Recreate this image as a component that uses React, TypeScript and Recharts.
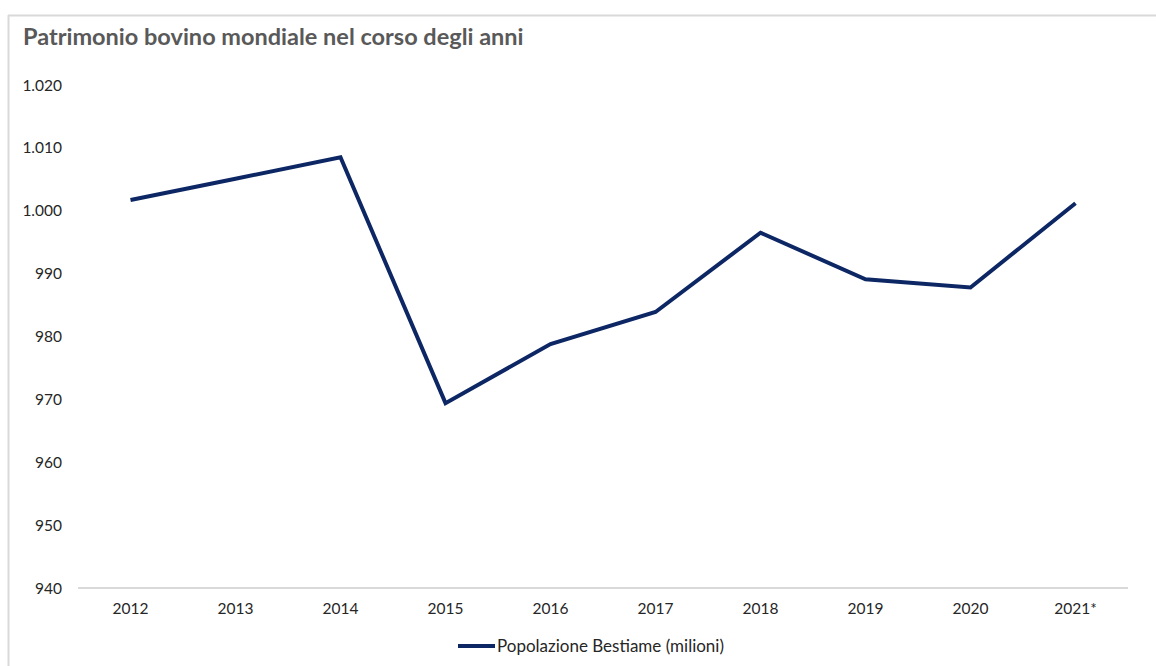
import React from 'react';
import { LineChart, Line, XAxis, YAxis } from 'recharts';

const years = ['2012', '2013', '2014', '2015', '2016', '2017', '2018', '2019', '2020', '2021*'];
const livestock = [1001.7, 1005.1, 1008.5, 969.4, 978.8, 983.9, 996.5, 989.1, 987.8, 1001.2];
const yTicks = [940, 950, 960, 970, 980, 990, 1000, 1010, 1020];

const TITLE = 'Patrimonio bovino mondiale nel corso degli anni';
const SERIES_NAME = 'Popolazione Bestiame (milioni)';
const LINE_COLOR = '#0d2765';
const FONT = 'Lato, "Open Sans", sans-serif';

const data = years.map((y, i) => ({ year: y, value: livestock[i] }));

const fmt = (v: number) => {
  if (v >= 1000) {
    const s = String(v);
    return s.slice(0, s.length - 3) + '.' + s.slice(s.length - 3);
  }
  return String(v);
};

export default function App() {
  return (
    <div style={{ position: 'absolute', left: 0, top: 0, width: 1156, height: 666, background: '#fff' }}>
      <svg width={1156} height={666} style={{ position: 'absolute', left: 0, top: 0 }}>
        <line x1={8} y1={15.5} x2={1156} y2={15.5} stroke="#d9d9d9" strokeWidth={2} />
        <line x1={8.5} y1={15} x2={8.5} y2={666} stroke="#d9d9d9" strokeWidth={2} />
        <text x={23} y={45} fontFamily={FONT} fontWeight={700} fontSize={23.5} fill="#595959">
          {TITLE}
        </text>
      </svg>
      <div style={{ position: 'absolute', left: 0, top: 0 }}>
        <LineChart width={1156} height={666} data={data} margin={{ top: 85, right: 28, bottom: 48, left: 18 }}>
          <XAxis
            dataKey="year"
            scale="band"
            height={30}
            axisLine={{ stroke: '#d9d9d9', strokeWidth: 2 }}
            tickLine={false}
            tickSize={0}
            tickMargin={15}
            tick={{ fontFamily: FONT, fontSize: 15.5, fill: '#262626' }}
            interval={0}
          />
          <YAxis
            width={60}
            domain={[940, 1020]}
            ticks={yTicks}
            axisLine={false}
            tickLine={false}
            tickSize={0}
            tickMargin={16}
            tickFormatter={fmt}
            tick={{ fontFamily: FONT, fontSize: 15.5, fill: '#262626' }}
            interval={0}
          />
          <Line
            type="linear"
            dataKey="value"
            name={SERIES_NAME}
            stroke={LINE_COLOR}
            strokeWidth={4}
            dot={false}
            activeDot={false}
            isAnimationActive={false}
          />
        </LineChart>
      </div>
      <div
        style={{
          position: 'absolute',
          left: 458,
          top: 635,
          display: 'flex',
          alignItems: 'center',
          fontFamily: FONT,
          fontSize: 17,
          color: '#262626',
          whiteSpace: 'nowrap',
        }}
      >
        <span style={{ display: 'inline-block', width: 37, height: 4, background: LINE_COLOR, marginRight: 2 }} />
        <span>{SERIES_NAME}</span>
      </div>
    </div>
  );
}
